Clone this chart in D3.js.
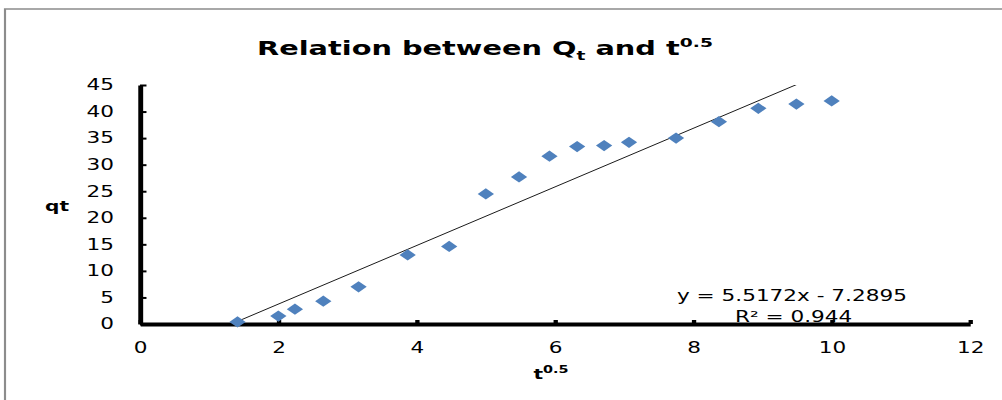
<!DOCTYPE html>
<html>
<head>
<meta charset="utf-8">
<script src="https://cdn.jsdelivr.net/npm/d3@7"></script>
<style>
  body { margin: 0; background: #fff; }
  text { font-family: "DejaVu Sans", Verdana, sans-serif; fill: #000; }
</style>
</head>
<body>
<div id="chart"></div>
<script>
// values
var tHalf = [1.41, 2.0, 2.24, 2.65, 3.16, 3.87, 4.47, 5.0, 5.48, 5.92, 6.32, 6.71, 7.07, 7.75, 8.37, 8.94, 9.49, 10.0];
var qt = [0.4, 1.5, 2.8, 4.3, 7.0, 13.0, 14.6, 24.5, 27.7, 31.6, 33.4, 33.6, 34.2, 35.0, 38.1, 40.6, 41.4, 42.0];
var xTicks = [0, 2, 4, 6, 8, 10, 12];
var yTicks = [0, 5, 10, 15, 20, 25, 30, 35, 40, 45];
var trend = { slope: 5.5172, intercept: -7.2895, r2: 0.944 };

// the picture is stretched sideways, so draw in a narrower box and let the viewBox widen it
var sx = 1.44;
var width = 1002, height = 400;
var vw = width / sx;

var svg = d3.select("#chart").append("svg")
    .attr("width", width)
    .attr("height", height)
    .attr("viewBox", "0 0 " + vw + " " + height)
    .attr("preserveAspectRatio", "none");

// chart border
svg.append("rect")
    .attr("x", 5 / sx).attr("y", 9)
    .attr("width", vw).attr("height", height)
    .attr("fill", "#fff")
    .attr("stroke", "#8c8c8c")
    .attr("stroke-width", 1.5);

var x = d3.scaleLinear().domain([0, 12]).range([140 / sx, 970 / sx]);
var y = d3.scaleLinear().domain([0, 45]).range([324, 85]);

svg.append("defs").append("clipPath").attr("id", "plot")
    .append("rect")
    .attr("x", x(0)).attr("y", y(45))
    .attr("width", x(12) - x(0)).attr("height", y(0) - y(45));

// y axis, ticks point inward
var yAxis = svg.append("g")
    .attr("transform", "translate(" + x(0) + ",0)")
    .call(d3.axisLeft(y).tickValues(yTicks).tickSizeInner(-4.5).tickSizeOuter(0).tickPadding(18));
yAxis.select(".domain").attr("stroke", "#000").attr("stroke-width", 3.4);
yAxis.selectAll(".tick line").attr("stroke", "#000").attr("stroke-width", 2);
yAxis.selectAll(".tick text")
    .style("font-size", "15px")
    .attr("fill", "#222");

// x axis, small square ticks above the line
var xAxis = svg.append("g")
    .attr("transform", "translate(0," + y(0) + ")")
    .call(d3.axisBottom(x).tickValues(xTicks).tickSizeInner(-4).tickSizeOuter(0));
xAxis.select(".domain").attr("stroke", "#000").attr("stroke-width", 4);
xAxis.selectAll(".tick line").attr("stroke", "#000").attr("stroke-width", 3);
xAxis.selectAll(".tick text")
    .attr("y", 29).attr("dy", 0)
    .style("font-size", "15px")
    .attr("fill", "#222");

// trendline over the data range, clipped to the plot
var xr = d3.extent(tHalf);
svg.append("line")
    .attr("clip-path", "url(#plot)")
    .attr("x1", x(xr[0])).attr("y1", y(trend.slope * xr[0] + trend.intercept))
    .attr("x2", x(xr[1])).attr("y2", y(trend.slope * xr[1] + trend.intercept))
    .attr("stroke", "#1a1a1a")
    .attr("stroke-width", 1)
    .attr("vector-effect", "non-scaling-stroke");

// diamond markers
var diamond = d3.symbol().type(d3.symbolSquare).size(64);
svg.append("g").selectAll("path")
    .data(d3.zip(tHalf, qt))
    .enter().append("path")
    .attr("d", diamond)
    .attr("transform", function (d) { return "translate(" + x(d[0]) + "," + y(d[1]) + ") rotate(45)"; })
    .attr("fill", "#4f81bd");

// trendline label
svg.append("text")
    .attr("x", 677 / sx).attr("y", 301)
    .style("font-size", "15px")
    .attr("fill", "#222")
    .text("y = " + trend.slope + "x - " + Math.abs(trend.intercept));
svg.append("text")
    .attr("x", 735 / sx).attr("y", 322)
    .style("font-size", "15px")
    .attr("fill", "#222")
    .text("R\u00b2 = " + trend.r2);

// title
var title = svg.append("text")
    .attr("x", 485 / sx).attr("y", 55)
    .attr("text-anchor", "middle")
    .style("font-size", "20px")
    .style("font-weight", "bold");
title.append("tspan").text("Relation between Q");
title.append("tspan").attr("dy", 5).style("font-size", "13px").text("t");
title.append("tspan").attr("dy", -5).text(" and t");
title.append("tspan").attr("dy", -8).style("font-size", "13px").text("0.5");

// axis titles
svg.append("text")
    .attr("x", 57 / sx).attr("y", 211)
    .attr("text-anchor", "middle")
    .style("font-size", "14px")
    .style("font-weight", "bold")
    .text("qt");

var xt = svg.append("text")
    .attr("x", 551 / sx).attr("y", 379)
    .attr("text-anchor", "middle")
    .style("font-size", "14px")
    .style("font-weight", "bold");
xt.append("tspan").text("t");
xt.append("tspan").attr("dy", -6).style("font-size", "10px").text("0.5");
</script>
</body>
</html>
